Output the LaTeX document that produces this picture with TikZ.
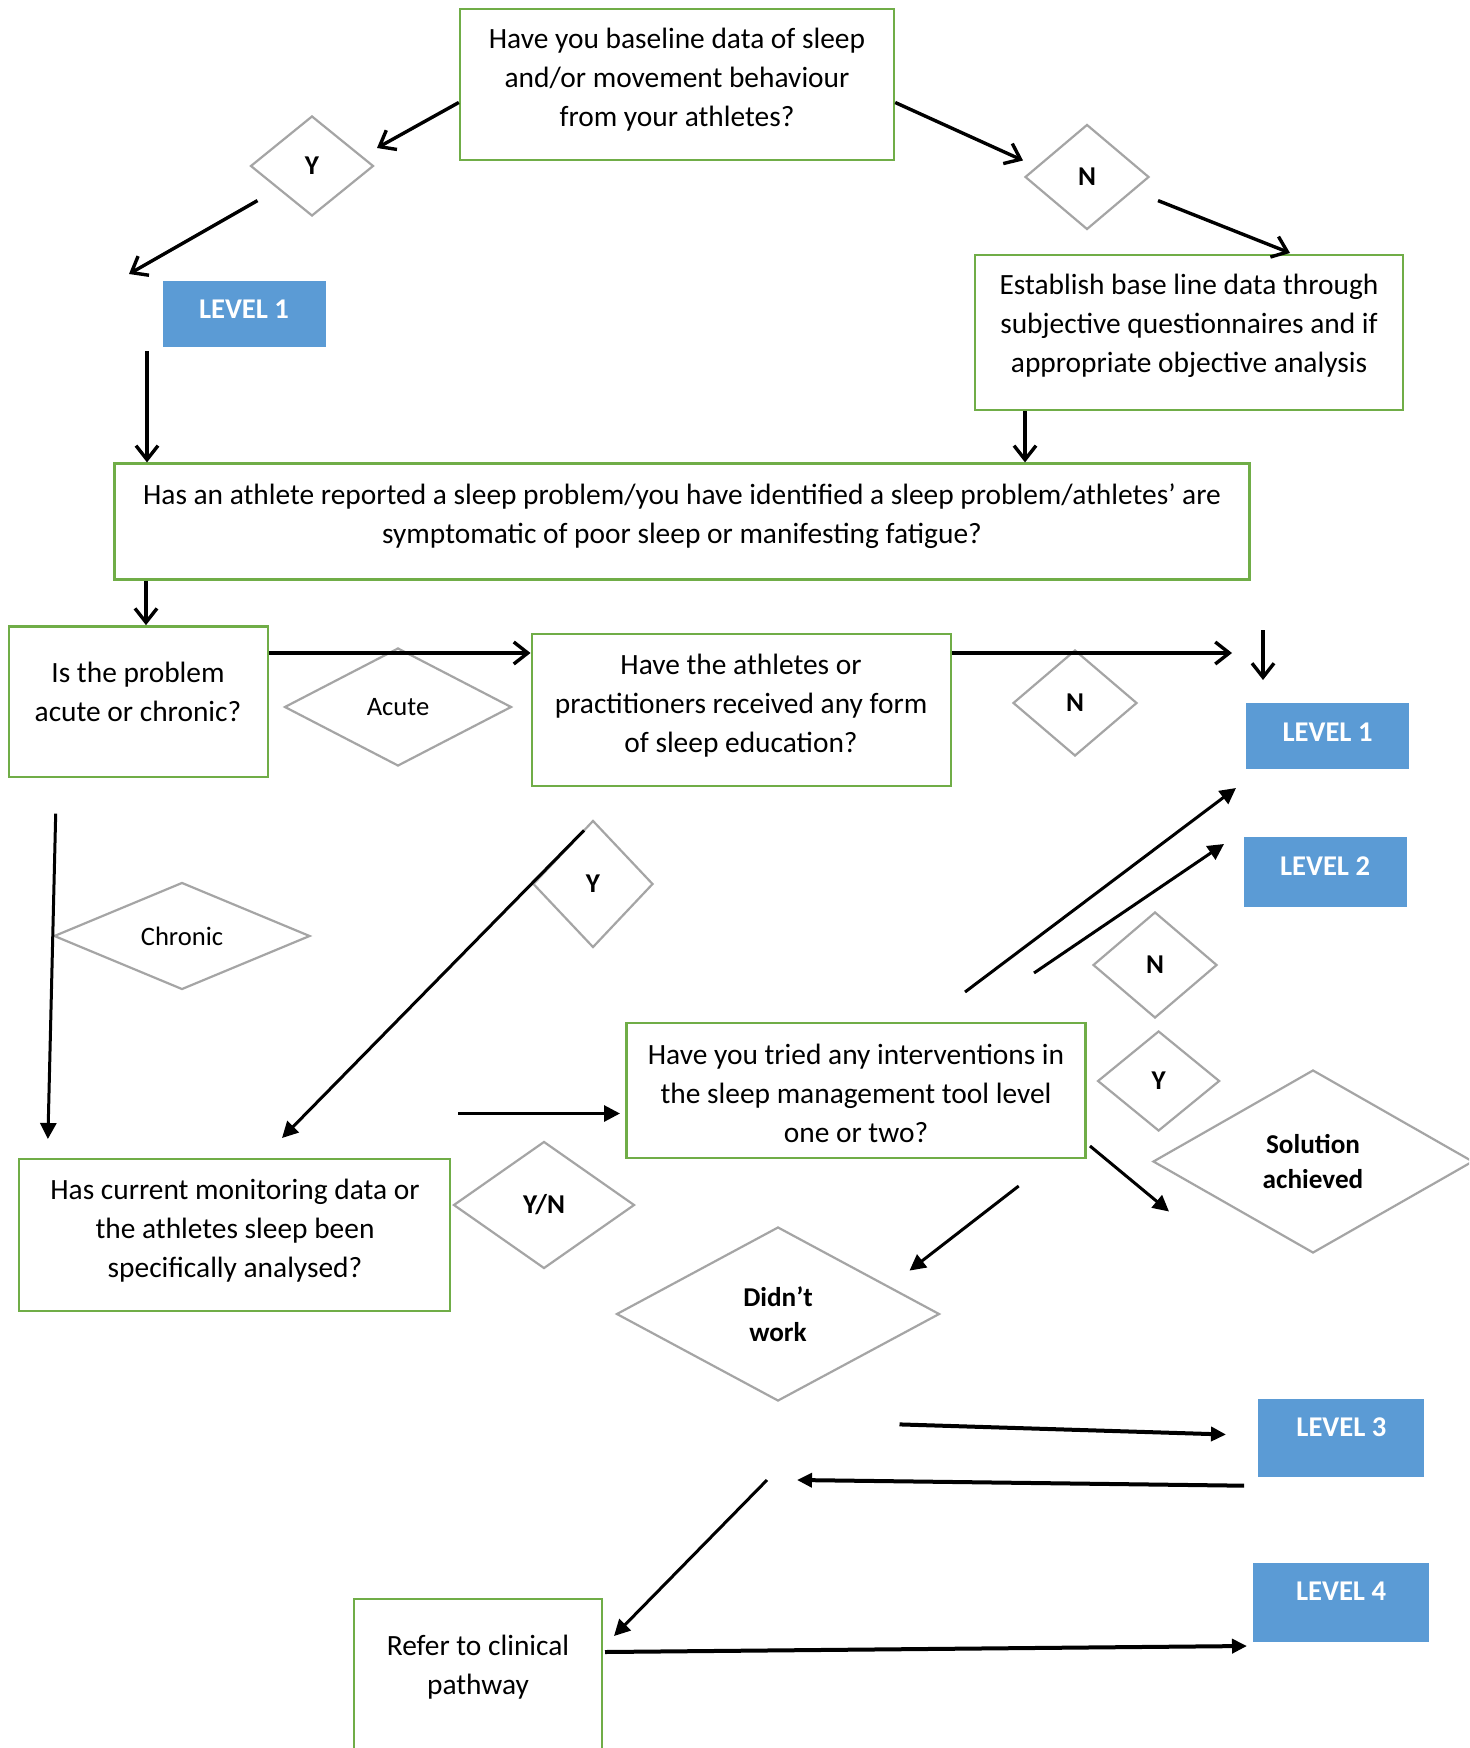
\documentclass[tikz,border=0pt]{standalone}
\usepackage{fontspec}
\setmainfont{Carlito}
\usetikzlibrary{shapes.geometric,arrows.meta,calc}
\definecolor{boxgreen}{HTML}{70AD47}
\definecolor{levelblue}{HTML}{5B9BD5}
\definecolor{diagrey}{HTML}{A5A5A5}
\begin{document}
\begin{tikzpicture}[x=0.5pt,y=-0.5pt,
  qbox/.style 2 args={draw=boxgreen, line width=1.2pt, minimum width=#1*0.5pt, minimum height=#2*0.5pt, inner sep=0pt},
  qtext/.style={align=center, font=\fontsize{14.7}{19.5}\selectfont, inner sep=0pt},
  lvl/.style 2 args={fill=levelblue, minimum width=#1*0.5pt, minimum height=#2*0.5pt, inner sep=0pt},
  lvltext/.style={text=white, font=\bfseries\fontsize{14.3}{17}\selectfont, inner sep=0pt},
  dia/.style 2 args={diamond, draw=diagrey, line width=1.1pt, minimum width=#1*0.5pt, minimum height=#2*0.5pt, inner sep=0pt, align=center, font=\fontsize{13.3}{17.4}\selectfont},
  diab/.style={font=\bfseries\fontsize{13.6}{17.4}\selectfont},
  barb/.style={line width=1.7pt, -{Straight Barb[length=7pt,width=11pt]}},
  tri/.style={line width=1.5pt, -{Triangle[length=8pt,width=8pt]}},
  trithick/.style={line width=2pt, -{Triangle[length=7.5pt,width=7pt]}}
]
\useasboundingbox (0,0) rectangle (1469,1748);
\clip (0,0) rectangle (1469,1748);
\fill[white] (0,0) rectangle (1469,1748);

% question boxes (text sits near the top of each box)
\node[qbox={434}{151}] (b1) at (677,84.5) {};
\node[qtext] (b1t) at (677,80) {Have you baseline data of sleep\\and/or movement behaviour\\from your athletes?};
\node[qbox={428}{155}] (est) at (1189,332.7) {};
\node[qtext] (estt) at (1189,326.3) {Establish base line data through\\subjective questionnaires and if\\appropriate objective analysis};
\node[qbox={1135}{116}] (big) at (682,521.6) {};
\node[qtext] (bigt) at (682,515.8) {Has an athlete reported a sleep problem/you have identified a sleep problem/athletes’ are\\symptomatic of poor sleep or manifesting fatigue?};
\node[qbox={259}{150.5}] (ac) at (138.2,701.6) {};
\node[qtext] (act) at (138,692) {Is the problem\\acute or chronic?};
\node[qbox={419}{151.6}] (edu) at (741.2,710) {};
\node[qtext] (edut) at (741,705.5) {Have the athletes or\\practitioners received any form\\of sleep education?};
\node[qbox={459}{135}] (int) at (856,1090.6) {};
\node[qtext] (intt) at (856,1093) {Have you tried any interventions in\\the sleep management tool level\\one or two?};
\node[qbox={431}{151.5}] (mon) at (234.6,1235) {};
\node[qtext] (mont) at (235,1230.8) {Has current monitoring data or\\the athletes sleep been\\specifically analysed?};
\node[qbox={248}{162}] (ref) at (478,1680) {};
\node[qtext] (reft) at (478,1667) {Refer to clinical\\pathway};

% level boxes
\node[lvl={163}{66}] (l1a) at (244,313.8) {};
\node[lvltext] (l1at) at (244,309.4) {LEVEL 1};
\node[lvl={163}{66}] (l1b) at (1327.5,736.2) {};
\node[lvltext] (l1bt) at (1327.5,731.8) {LEVEL 1};
\node[lvl={163}{70}] (l2) at (1325,872) {};
\node[lvltext] (l2t) at (1325,866) {LEVEL 2};
\node[lvl={166}{78}] (l3) at (1341.4,1437.8) {};
\node[lvltext] (l3t) at (1341.4,1427.3) {LEVEL 3};
\node[lvl={176}{79}] (l4) at (1341,1602) {};
\node[lvltext] (l4t) at (1341,1591.1) {LEVEL 4};

% decision diamonds
\node[dia={123}{100}, diab] (y1) at (312,166) {Y};
\node[dia={124}{105}, diab] (n1) at (1087,177) {N};
\node[dia={227}{118}] (acute) at (398,707) {Acute};
\node[dia={124}{106}, diab] (n2) at (1075,703) {N};
\node[dia={256}{107}] (chronic) at (182,936) {Chronic};
\node[dia={120}{127}, diab] (y2) at (593,884) {Y};
\node[dia={181}{127}, diab] (yn) at (544,1205) {Y/N};
\node[dia={124}{106}, diab] (n3) at (1155,965) {N};
\node[dia={122}{100}, diab] (y3) at (1158.6,1081) {Y};
\node[dia={320}{183}, diab] (sol) at (1313,1161.5) {Solution\\achieved};
\node[dia={323}{174}, diab] (dw) at (778,1314) {Didn’t\\work};

% free connector ends
\coordinate (e1) at (377,148);
\coordinate (s2) at (257.5,200.6);
\coordinate (e2) at (129,274);
\coordinate (e3) at (1023,160.5);
\coordinate (s4) at (1158,200.6);
\coordinate (e4) at (1290,253);
\coordinate (s5) at (147,351);
\coordinate (s6) at (1025,0);
\coordinate (s7) at (146,0);
\coordinate (r8) at (0,653);
\coordinate (e9) at (1232,653);
\coordinate (s10) at (1263,630);
\coordinate (e10) at (1263,680);
\coordinate (s11) at (55.7,813.6);
\coordinate (e11) at (47.9,1139);
\coordinate (s12) at (584,830.4);
\coordinate (e12) at (282,1138);
\coordinate (s13) at (458,1113.5);
\coordinate (e13) at (620,1113.5);
\coordinate (s14) at (965,992);
\coordinate (e14) at (1236,788);
\coordinate (s15) at (1034,973);
\coordinate (e15) at (1224,844);
\coordinate (s16) at (1090,1146);
\coordinate (e16) at (1169,1211.5);
\coordinate (s17) at (1018.7,1186);
\coordinate (e17) at (909.5,1270.6);
\coordinate (s18) at (899.5,1424.4);
\coordinate (e18) at (1226,1434.5);
\coordinate (s19) at (1244,1485.7);
\coordinate (e19) at (797,1480);
\coordinate (s20) at (767,1480);
\coordinate (e20) at (614,1636);
\coordinate (s21) at (605,1652);
\coordinate (e21) at (1247,1646);

% open-headed connectors
\draw[barb] ([yshift=-9pt]b1.west) -- (e1);
\draw[barb] (s2) -- (e2);
\draw[barb] ([yshift=-9pt]b1.east) -- (e3);
\draw[barb] (s4) -- (e4);
\draw[barb] (s5) -- (s5 |- big.north);
\draw[barb] (s6 |- est.south) -- (s6 |- big.north);
\draw[barb] (s7 |- big.south) -- (s7 |- ac.north);
\draw[barb] (ac.east |- r8) -- (edu.west |- r8);
\draw[barb] (edu.east |- r8) -- (e9);
\draw[barb] (s10) -- (e10);

% filled-headed connectors
\draw[tri] (s11) -- (e11);
\draw[tri] (s12) -- (e12);
\draw[tri] (s13) -- (e13);
\draw[tri] (s14) -- (e14);
\draw[tri] (s15) -- (e15);
\draw[tri] (s16) -- (e16);
\draw[tri] (s17) -- (e17);
\draw[trithick] (s18) -- (e18);
\draw[trithick] (s19) -- (e19);
\draw[tri] (s20) -- (e20);
\draw[trithick] (s21) -- (e21);
\end{tikzpicture}
\end{document}
